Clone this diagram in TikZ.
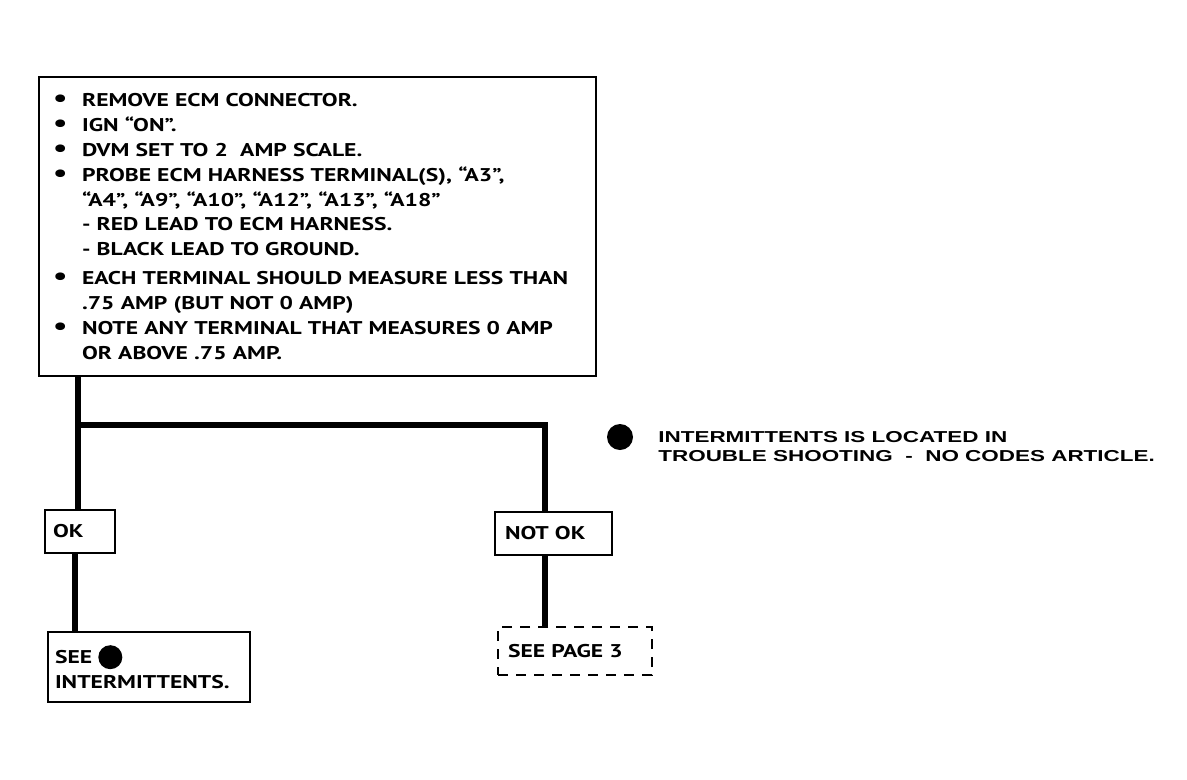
\documentclass[tikz,border=0pt]{standalone}
\usepackage{fontspec}
\setmainfont{PT Sans}[FakeStretch=1.28]
\newfontfamily\helv{Liberation Sans}[FakeStretch=1.42]
\usetikzlibrary{positioning}

\newcommand{\bul}{\makebox[0.58cm][l]{\scalebox{1.35}{\textbullet}}}
\newcommand{\ind}{\hspace*{0.58cm}}
\newcommand{\dotmark}{\tikz[baseline=-0.7ex]\fill (0,0) circle (0.24cm);}

\begin{document}
\begin{tikzpicture}[x=0.02cm,y=-0.02cm,
    box/.style={draw,line width=1.2pt,inner ysep=0pt,align=left,
      font=\fontsize{10.5}{14.2}\selectfont\bfseries},
    wire/.style={line width=3.4pt}]

  \useasboundingbox (0,0) rectangle (1187,779);

  % the check to make
  \node[box,anchor=north west,text width=10.58cm,inner xsep=0.28cm,
        minimum height=5.98cm] (check) at (38,76)
    {\bul REMOVE ECM CONNECTOR.\\
     \bul IGN “ON”.\\
     \bul DVM SET TO 2\ \ AMP SCALE.\\
     \bul PROBE ECM HARNESS TERMINAL(S), “A3”,\\
     \ind “A4”, “A9”, “A10”, “A12”, “A13”, “A18”\\
     \ind - RED LEAD TO ECM HARNESS.\\
     \ind - BLACK LEAD TO GROUND.\\[0.08cm]
     \bul EACH TERMINAL SHOULD MEASURE LESS THAN\\
     \ind .75 AMP (BUT NOT 0 AMP)\\
     \bul NOTE ANY TERMINAL THAT MEASURES 0 AMP\\
     \ind OR ABOVE .75 AMP.};

  % results
  \node[box,text width=1.08cm,inner xsep=0.16cm,minimum height=0.86cm]
    (ok) at (80,531.5) {OK};
  \node[box,text width=1.94cm,inner xsep=0.2cm,minimum height=0.86cm]
    (notok) at (553.5,533.5) {NOT OK};

  % what to do next
  \node[box,text width=3.76cm,inner xsep=0.14cm,minimum height=1.4cm]
    (see) at (149,667) {SEE \dotmark\\INTERMITTENTS.};
  \node[box,dash pattern=on 0.2cm off 0.16cm,line width=0.8pt,
        text width=2.68cm,inner xsep=0.2cm,minimum height=0.96cm]
    (page) at (575,651) {SEE PAGE 3};

  % side note
  \node[circle,fill,inner sep=0pt,minimum size=0.52cm] (dot) at (620,437) {};
  \node[anchor=north west,inner sep=0pt,align=left,
        font=\helv\fontsize{9}{10.6}\selectfont\bfseries]
    (note) at (658,431)
    {INTERMITTENTS IS LOCATED IN\\TROUBLE SHOOTING\ \ -\ \ NO CODES ARTICLE.};

  \coordinate (split) at (78,425);
  \coordinate (turn) at (545,425);

  \draw[wire] (check.south -| split) -- (split |- ok.north);
  \draw[wire] (split) -- (turn) -- (turn |- notok.north);
  \draw[wire] (ok.south -| 75,0) -- (see.north -| 75,0);
  \draw[wire] (notok.south -| turn) -- (page.north -| turn);
\end{tikzpicture}
\end{document}
